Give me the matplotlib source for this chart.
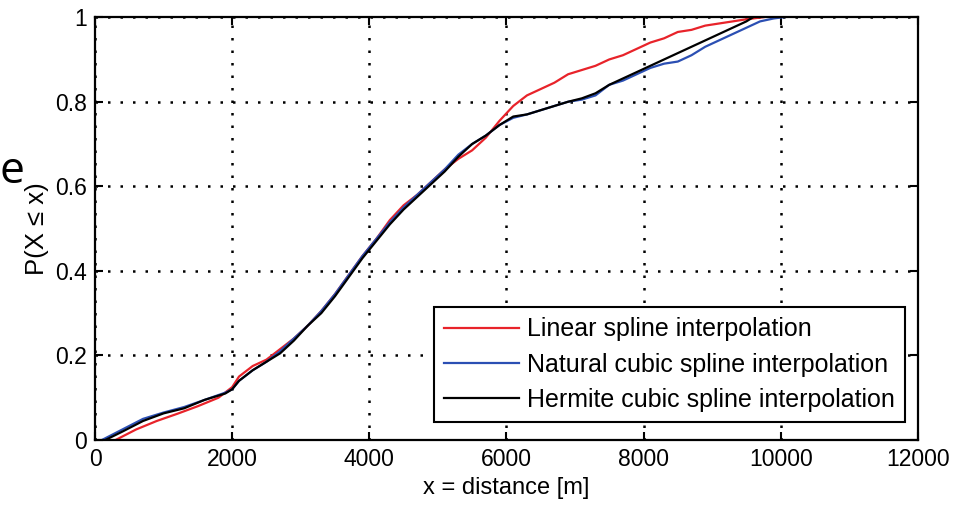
import matplotlib.pyplot as plt

plt.rcParams['font.family'] = ['Liberation Sans', 'DejaVu Sans']

x_linear = [300, 600, 900, 1200, 1500, 1800, 2000, 2100, 2300, 2500, 2700, 2900,
            3100, 3300, 3500, 3700, 3900, 4100, 4300, 4500, 4700, 4900, 5100,
            5300, 5500, 5700, 5900, 6100, 6300, 6500, 6700, 6900, 7100, 7300,
            7500, 7700, 7900, 8100, 8300, 8500, 8700, 8900, 9100, 9300, 9500, 9750]
p_linear = [0, 0.025, 0.045, 0.062, 0.08, 0.10, 0.125, 0.15, 0.175, 0.19, 0.215, 0.24,
            0.27, 0.305, 0.345, 0.39, 0.435, 0.475, 0.52, 0.555, 0.58, 0.61, 0.64,
            0.665, 0.685, 0.715, 0.755, 0.79, 0.815, 0.83, 0.845, 0.865, 0.875, 0.885,
            0.90, 0.91, 0.925, 0.94, 0.95, 0.965, 0.97, 0.98, 0.985, 0.99, 0.995, 1.0]

x_natural = [100, 400, 700, 1000, 1300, 1600, 1900, 2000, 2100, 2300, 2500, 2700,
             2900, 3100, 3300, 3500, 3700, 3900, 4100, 4300, 4500, 4700, 4900, 5100,
             5300, 5500, 5700, 5900, 6100, 6300, 6500, 6700, 6900, 7100, 7300, 7500,
             7700, 7900, 8100, 8300, 8500, 8700, 8900, 9100, 9300, 9500, 9700, 9900, 10050]
p_natural = [0, 0.025, 0.05, 0.065, 0.078, 0.095, 0.112, 0.12, 0.14, 0.165, 0.185, 0.21,
             0.24, 0.27, 0.305, 0.345, 0.39, 0.435, 0.475, 0.515, 0.55, 0.58, 0.61, 0.64,
             0.675, 0.70, 0.72, 0.745, 0.762, 0.77, 0.78, 0.79, 0.80, 0.805, 0.815, 0.84,
             0.85, 0.865, 0.88, 0.89, 0.895, 0.91, 0.93, 0.945, 0.96, 0.975, 0.99, 0.997, 1.0]

x_hermite = [150, 400, 700, 1000, 1300, 1600, 1900, 2000, 2100, 2300, 2500, 2700, 2900,
             3100, 3300, 3500, 3700, 3900, 4100, 4300, 4500, 4700, 4900, 5100, 5300,
             5500, 5700, 5900, 6100, 6300, 6500, 6700, 6900, 7100, 7300, 7500, 7700,
             7900, 8100, 8300, 8500, 8700, 8900, 9100, 9300, 9500, 9600]
p_hermite = [0, 0.02, 0.045, 0.063, 0.075, 0.095, 0.11, 0.12, 0.14, 0.165, 0.185, 0.205, 0.235,
             0.27, 0.30, 0.34, 0.385, 0.43, 0.47, 0.51, 0.545, 0.575, 0.605, 0.635, 0.67,
             0.70, 0.72, 0.745, 0.765, 0.77, 0.78, 0.79, 0.80, 0.808, 0.82, 0.84, 0.855,
             0.87, 0.885, 0.90, 0.915, 0.93, 0.945, 0.96, 0.975, 0.99, 1.0]

xticks = [0, 2000, 4000, 6000, 8000, 10000, 12000]
yticks = [0, 0.2, 0.4, 0.6, 0.8, 1]
ytick_labels = ['0', '0.2', '0.4', '0.6', '0.8', '1']

fig = plt.figure(figsize=(9.55, 5.05), dpi=100)
ax = fig.add_axes([0.0995, 0.1287, 0.8615, 0.8373])

ax.plot(x_linear, p_linear, color='#e8232a', lw=1.6, label='Linear spline interpolation')
ax.plot(x_natural, p_natural, color='#2b4fb3', lw=1.6, label='Natural cubic spline interpolation')
ax.plot(x_hermite, p_hermite, color='black', lw=1.6, label='Hermite cubic spline interpolation')

ax.set_xlim(0, 12000)
ax.set_ylim(0, 1)
ax.set_xticks(xticks)
ax.set_yticks(yticks)
ax.set_yticklabels(ytick_labels)
ax.grid(True, color='black', linestyle=(0, (1, 4)), lw=1.8)
ax.tick_params(direction='in', top=True, right=True, length=6, width=1.5,
               labelsize=16.5, pad=6)
for s in ax.spines.values():
    s.set_linewidth(1.6)

ax.set_xlabel('x = distance [m]', fontsize=17, labelpad=4)
ax.set_ylabel('P(X ≤ x)', fontsize=18.5, labelpad=4)

leg = ax.legend(loc='lower right', bbox_to_anchor=(0.984, 0.043), fontsize=18,
                fancybox=False, edgecolor='black', framealpha=1,
                handlelength=3.0, handletextpad=0.3, labelspacing=0.45,
                borderpad=0.4, borderaxespad=0)
leg.get_frame().set_linewidth(1.5)

# stray letter from the slide title at the left edge
fig.text(0.0, 1 - 183 / 505, 'e', fontsize=32, family='Open Sans', ha='left', va='baseline')

fig.savefig('out.png', dpi=100)
